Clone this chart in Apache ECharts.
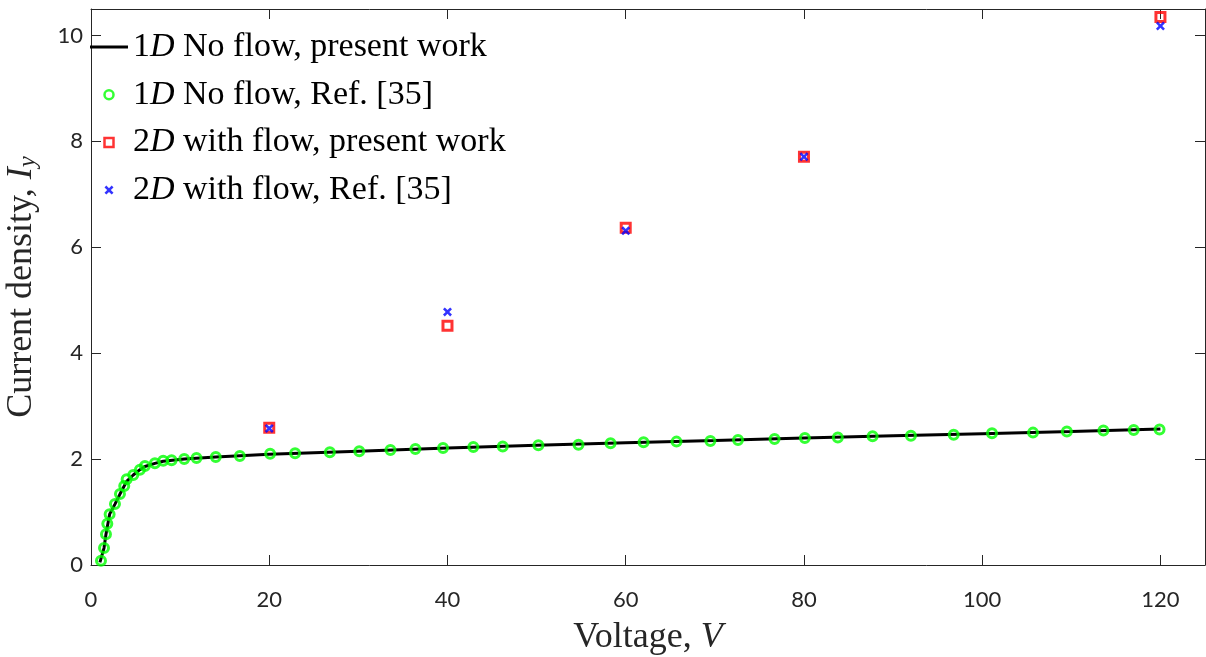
<!DOCTYPE html>
<html>
<head>
<meta charset="utf-8">
<script src="https://cdn.jsdelivr.net/npm/echarts@6/dist/echarts.min.js"></script>
<style>
html,body{margin:0;padding:0;background:#fff;}
#chart{width:1206px;height:657px;}
</style>
</head>
<body>
<div id="chart"></div>
<script>
// ---- data ----
var seriesNames = ['1D No flow, present work', '1D No flow, Ref. [35]', '2D with flow, present work', '2D with flow, Ref. [35]'];

var lineV = [1.0, 1.12, 1.46, 1.68, 2.09, 2.69, 3.25, 4.0, 4.74, 5.49, 6.05, 7.17, 8.1, 10.46, 14, 20, 30, 40, 50, 60, 70, 80, 90, 100, 110, 120];
var lineI = [0.05, 0.08, 0.32, 0.58, 0.96, 1.15, 1.34, 1.58, 1.70, 1.80, 1.86, 1.92, 1.96, 2.00, 2.04, 2.09, 2.15, 2.21, 2.26, 2.31, 2.35, 2.40, 2.44, 2.48, 2.52, 2.57];

var refV = [1.12, 1.46, 1.68, 1.83, 2.09, 2.69, 3.25, 3.73, 4.0, 4.74, 5.49, 6.05, 7.17, 8.1, 9.04, 10.46, 11.84, 14.0, 16.7, 20.1, 22.9, 26.8, 30.1, 33.6, 36.4, 39.5, 42.9, 46.2, 50.2, 54.7, 58.3, 62.0, 65.7, 69.5, 72.6, 76.7, 80.1, 83.8, 87.7, 92.0, 96.8, 101.1, 105.7, 109.5, 113.6, 117.0, 119.9];
var refI = [0.08, 0.32, 0.58, 0.78, 0.96, 1.15, 1.34, 1.49, 1.62, 1.70, 1.80, 1.87, 1.92, 1.97, 1.98, 2.00, 2.02, 2.04, 2.06, 2.10, 2.11, 2.13, 2.15, 2.17, 2.19, 2.21, 2.23, 2.24, 2.26, 2.27, 2.30, 2.32, 2.33, 2.34, 2.36, 2.38, 2.40, 2.41, 2.43, 2.44, 2.46, 2.49, 2.50, 2.52, 2.54, 2.55, 2.56];

var flowV = [20, 40, 60, 80, 120];
var flowPresentI = [2.59, 4.52, 6.37, 7.71, 10.35];
var flowRefI = [2.58, 4.78, 6.31, 7.71, 10.18];

var xTicks = [0, 20, 40, 60, 80, 100, 120];
var yTicks = [0, 2, 4, 6, 8, 10];

// ---- build ----
function zip(a, b) { return a.map(function (v, i) { return [v, b[i]]; }); }

var axisColor = '#262626';
var serif = 'Liberation Serif';
var xPath = 'path://M0,2 L2,0 L5,3 L8,0 L10,2 L7,5 L10,8 L8,10 L5,7 L2,10 L0,8 L3,5 Z';
var sqPath = 'path://M0,0 L10,0 L10,10 L0,10 Z';
var linePath = 'path://M0,0 L38,0 L38,3 L0,3 Z';

var chart = echarts.init(document.getElementById('chart'), null, {renderer: 'canvas'});

var option = {
  animation: false,
  backgroundColor: '#fff',
  grid: {left: 91, right: 1, top: 9, bottom: 92, containLabel: false, outerBoundsMode: 'none'},
  legend: {
    orient: 'vertical',
    left: 90,
    top: 30,
    padding: 0,
    itemWidth: 38,
    itemHeight: 9,
    itemGap: 13.7,
    symbolKeepAspect: true,
    data: [
      {name: seriesNames[0], icon: linePath, itemStyle: {color: '#000', borderWidth: 0}},
      {name: seriesNames[1], icon: 'circle', itemStyle: {color: 'rgba(0,0,0,0)', borderColor: '#00ff00', borderWidth: 2.5}},
      {name: seriesNames[2], icon: sqPath, itemStyle: {color: 'rgba(0,0,0,0)', borderColor: '#ff0000', borderWidth: 2.5}},
      {name: seriesNames[3], icon: xPath, itemStyle: {color: '#0000ff'}}
    ],
    formatter: function (name) {
      return name.replace(/^(\d)D(.*)$/, '{n|$1}{i|D}{n|$2}');
    },
    textStyle: {
      rich: {
        n: {fontFamily: serif, fontSize: 34, lineHeight: 36, color: '#000'},
        i: {fontFamily: serif, fontSize: 34, lineHeight: 36, fontStyle: 'italic', color: '#000'}
      }
    }
  },
  xAxis: [{
    type: 'value', min: 0, max: 125, interval: 20,
    position: 'bottom',
    name: 'Voltage, {i|V}',
    nameLocation: 'middle',
    nameGap: 55,
    nameTextStyle: {
      fontFamily: serif, fontSize: 36, color: axisColor,
      rich: {i: {fontFamily: serif, fontSize: 36, fontStyle: 'italic', color: axisColor}}
    },
    axisLine: {show: true, lineStyle: {color: axisColor, width: 1}},
    axisTick: {show: true, inside: true, length: 10, lineStyle: {color: axisColor}},
    axisLabel: {show: true, margin: 24, formatter: function (v) { return xTicks.indexOf(v) >= 0 ? String(v) : ''; }, fontFamily: 'Lato', fontSize: 22, color: axisColor},
    splitLine: {show: false}
  }, {
    type: 'value', min: 0, max: 125, interval: 20,
    position: 'top',
    axisLine: {show: true, onZero: false, lineStyle: {color: axisColor, width: 1}},
    axisTick: {show: true, inside: true, length: 10, lineStyle: {color: axisColor}},
    axisLabel: {show: false},
    splitLine: {show: false}
  }],
  yAxis: [{
    type: 'value', min: 0, max: 10.5, interval: 2,
    position: 'left',
    name: 'Current density, {i|I}{s|y}',
    nameLocation: 'middle',
    nameGap: 50,
    nameTextStyle: {
      fontFamily: serif, fontSize: 36, color: axisColor,
      rich: {
        i: {fontFamily: serif, fontSize: 36, fontStyle: 'italic', color: axisColor},
        s: {fontFamily: serif, fontSize: 25, fontStyle: 'italic', color: axisColor, verticalAlign: 'bottom', padding: [14, 0, 0, 0]}
      }
    },
    axisLine: {show: true, lineStyle: {color: axisColor, width: 1}},
    axisTick: {show: true, inside: true, length: 10, lineStyle: {color: axisColor}},
    axisLabel: {show: true, margin: 8, formatter: function (v) { return yTicks.indexOf(v) >= 0 ? String(v) : ''; }, fontFamily: 'Lato', fontSize: 22, color: axisColor},
    splitLine: {show: false}
  }, {
    type: 'value', min: 0, max: 10.5, interval: 2,
    position: 'right',
    axisLine: {show: true, onZero: false, lineStyle: {color: axisColor, width: 1}},
    axisTick: {show: true, inside: true, length: 10, lineStyle: {color: axisColor}},
    axisLabel: {show: false},
    splitLine: {show: false}
  }],
  series: [{
    name: seriesNames[0],
    type: 'line',
    xAxisIndex: 0, yAxisIndex: 0,
    data: zip(lineV, lineI),
    symbol: 'none',
    lineStyle: {color: '#000', width: 3},
    itemStyle: {color: '#000'},
    z: 2
  }, {
    name: seriesNames[1],
    type: 'scatter',
    xAxisIndex: 0, yAxisIndex: 0,
    data: zip(refV, refI),
    symbol: 'circle',
    symbolSize: 9,
    itemStyle: {color: 'rgba(0,0,0,0)', borderColor: '#00ff00', borderWidth: 3},
    z: 3
  }, {
    name: seriesNames[2],
    type: 'scatter',
    xAxisIndex: 0, yAxisIndex: 0,
    data: zip(flowV, flowPresentI),
    symbol: sqPath,
    symbolSize: 9,
    itemStyle: {color: 'rgba(0,0,0,0)', borderColor: '#ff0000', borderWidth: 3},
    z: 4
  }, {
    name: seriesNames[3],
    type: 'scatter',
    xAxisIndex: 0, yAxisIndex: 0,
    data: zip(flowV, flowRefI),
    symbol: xPath,
    symbolSize: 9,
    itemStyle: {color: '#0000ff'},
    z: 5
  }]
};
chart.setOption(option);
</script>
</body>
</html>
